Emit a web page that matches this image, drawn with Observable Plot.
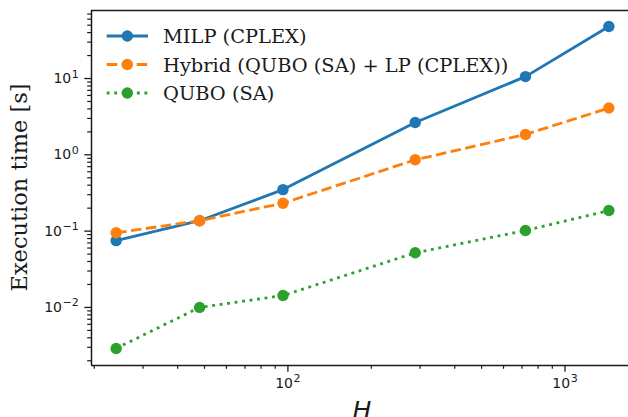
<!DOCTYPE html>
<html><head><meta charset="utf-8">
<script src="https://cdn.jsdelivr.net/npm/d3@7"></script>
<script src="https://cdn.jsdelivr.net/npm/@observablehq/plot@0.6"></script>
<style>
html,body{margin:0;padding:0;background:#fff;overflow:hidden;}
#chart svg{display:block;overflow:hidden;}
</style></head><body><div id="chart"></div>
<script>
// ---- data ----
const H = [24, 48, 96, 288, 720, 1440];
const milp = [0.075, 0.137, 0.35, 2.65, 10.6, 48];
const hybrid = [0.095, 0.137, 0.232, 0.86, 1.85, 4.1];
const qubo = [0.0029, 0.0100, 0.0143, 0.052, 0.102, 0.186];
const seriesNames = ["MILP (CPLEX)", "Hybrid (QUBO (SA) + LP (CPLEX))", "QUBO (SA)"];
const seriesColors = ["#1f77b4", "#ff7f0e", "#2ca02c"];
const seriesDash = [null, "10.5,4.5", "2.85,4.7"];
const xMajorTicks = [100, 1000];
const xMajorLabels = ["10²", "10³"];
const yMajorTicks = [10, 1, 0.1, 0.01];
const yMajorLabels = ["10¹", "10⁰", "10⁻¹", "10⁻²"];
const xLabel = "H";
const yLabel = "Execution time [s]";

// ---- layout ----
const W = 628, HT = 417;
const mL = 91, mT = 10, mB = 52;
const xDomain = [19.55, 1767];
const yDomain = [0.001733, 77.9];
const ink = "#1a1a1a";

const minor = (lo, hi) => {
  const out = [];
  for (let e = -4; e <= 4; e++) for (let k = 2; k <= 9; k++) {
    const v = k * Math.pow(10, e);
    if (v >= lo && v <= hi) out.push(+v.toPrecision(3));
  }
  return out;
};
const xMinor = minor(xDomain[0], xDomain[1]);
const yMinor = minor(yDomain[0], yDomain[1]);
const xLab = new Map(xMajorTicks.map((t, i) => [t, xMajorLabels[i]]));
const yLab = new Map(yMajorTicks.map((t, i) => [t, yMajorLabels[i]]));

const series = [milp, hybrid, qubo].map((vals, s) => H.map((h, i) => ({H: h, t: vals[i], s})));
const dataMarks = [];
series.forEach((d, s) => {
  const lo = {x: "H", y: "t", stroke: seriesColors[s], strokeWidth: 2.8, strokeLinejoin: "round", strokeLinecap: "butt"};
  if (seriesDash[s]) lo.strokeDasharray = seriesDash[s];
  dataMarks.push(Plot.line(d, lo));
  dataMarks.push(Plot.dot(d, {x: "H", y: "t", r: 5.7, fill: seriesColors[s], stroke: "none"}));
});

const svg = Plot.plot({
  width: W, height: HT,
  marginLeft: mL, marginTop: mT, marginBottom: mB, marginRight: 0,
  style: {color: ink, background: "#fff", overflow: "hidden", fontFamily: "DejaVu Sans", fontSize: "14px"},
  x: {type: "log", domain: xDomain, range: [mL, 633], label: null},
  y: {type: "log", domain: yDomain, label: null},
  marks: [
    Plot.axisX(xMinor, {anchor: "bottom", tickSize: 3.8, strokeWidth: 1.2, tickFormat: () => "", label: null}),
    Plot.axisX(xMajorTicks, {anchor: "bottom", tickSize: 6.7, tickPadding: 5.5, strokeWidth: 1.3, tickFormat: d => xLab.get(d), label: null, fontSize: 14}),
    Plot.axisY(yMinor, {anchor: "left", tickSize: 3.8, strokeWidth: 1.2, tickFormat: () => "", label: null}),
    Plot.axisY(yMajorTicks, {anchor: "left", tickSize: 6.7, tickPadding: 6, strokeWidth: 1.3, tickFormat: d => yLab.get(d), label: null, fontSize: 14}),
    ...dataMarks,
    Plot.ruleX([xDomain[0]], {stroke: ink, strokeWidth: 1.5}),
    Plot.ruleY([yDomain[0], yDomain[1]], {stroke: ink, strokeWidth: 1.5})
  ]
});
document.getElementById("chart").appendChild(svg);

// ---- superscripts in tick labels (mathtext-like) ----
const supMap = {"⁰":"0","¹":"1","²":"2","³":"3","⁴":"4","⁵":"5","⁶":"6","⁷":"7","⁸":"8","⁹":"9","⁻":"−"};
d3.select(svg).selectAll("text").each(function() {
  const t = this.textContent;
  const m = t.match(/^([0-9]+)([⁰¹²³⁴⁵⁶⁷⁸⁹⁻]+)$/);
  if (!m) return;
  const sel = d3.select(this);
  sel.text(null).attr("font-size", 14).attr("font-family", "DejaVu Sans");
  sel.append("tspan").text(m[1]);
  sel.append("tspan").attr("font-size", 11).attr("dx", 0.6).attr("dy", "-0.5em")
    .text([...m[2]].map(c => supMap[c]).join(""));
});

// ---- axis titles and legend ----
const g = d3.select(svg).append("g").attr("text-anchor", "start");
g.append("text")
  .attr("transform", "translate(27,187.5) rotate(-90)")
  .attr("text-anchor", "middle")
  .attr("font-family", "DejaVu Serif").attr("font-size", 22.5)
  .attr("fill", ink).text(yLabel);
g.append("text")
  .attr("x", 362).attr("y", 419)
  .attr("text-anchor", "middle")
  .attr("font-family", "DejaVu Sans").attr("font-style", "italic").attr("font-size", 25)
  .attr("fill", ink).text(xLabel);

const legY = [36, 64.5, 93];
seriesNames.forEach((name, i) => {
  const row = g.append("g").attr("transform", `translate(0,${legY[i]})`);
  const ln = row.append("line").attr("x1", 106.7).attr("x2", 148).attr("y1", 0).attr("y2", 0)
    .attr("stroke", seriesColors[i]).attr("stroke-width", 2.8);
  if (seriesDash[i]) ln.attr("stroke-dasharray", seriesDash[i]);
  row.append("circle").attr("cx", 127.3).attr("cy", 0).attr("r", 5.7).attr("fill", seriesColors[i]);
  row.append("text").attr("x", 163).attr("y", 7).attr("text-anchor", "start")
    .attr("font-family", "DejaVu Serif").attr("font-size", 19.4)
    .attr("fill", ink).text(name);
});
</script></body></html>
